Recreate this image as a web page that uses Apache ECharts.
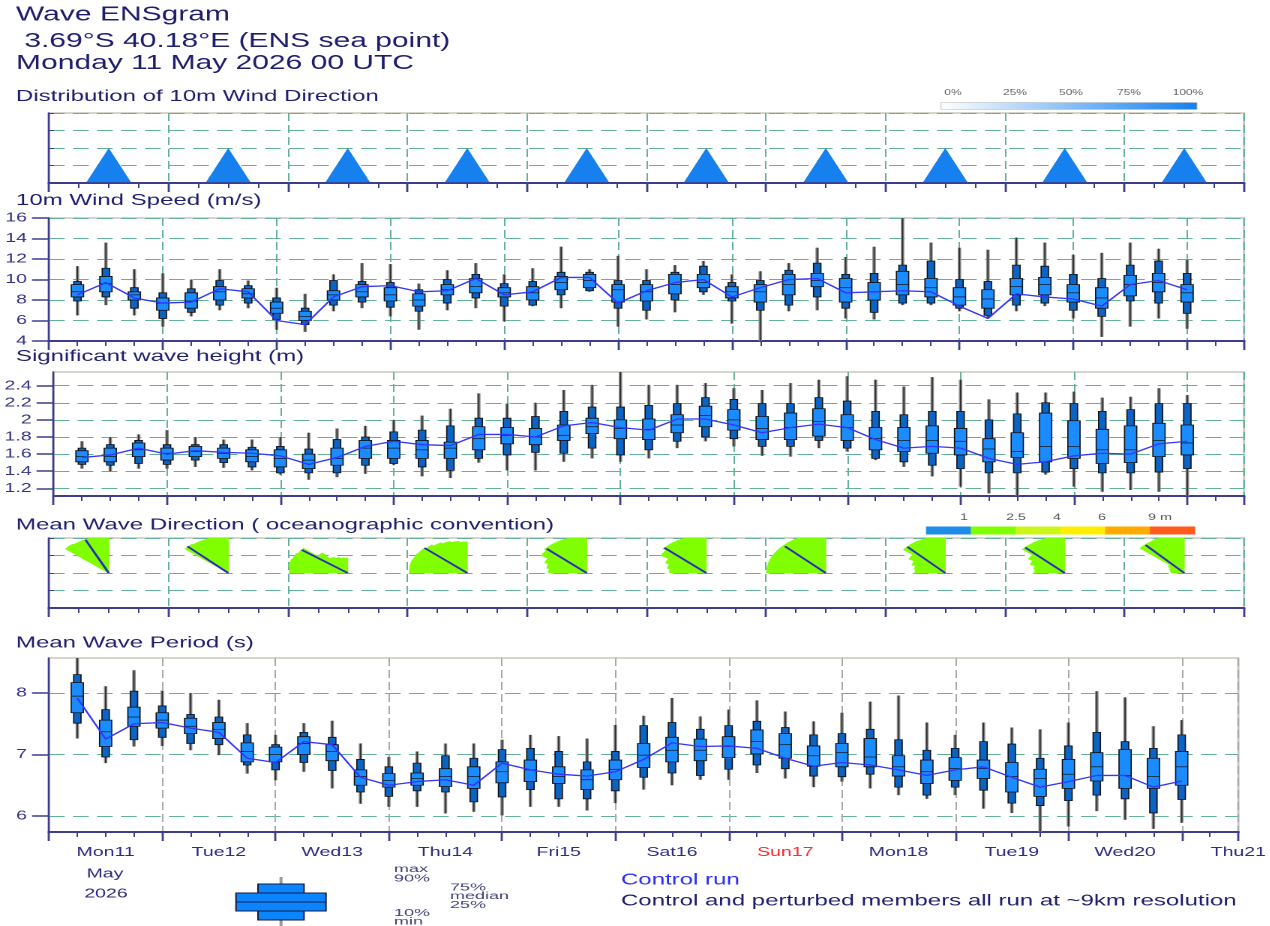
<!DOCTYPE html>
<html>
<head>
<meta charset="utf-8">
<script src="https://cdn.jsdelivr.net/npm/echarts@6/dist/echarts.min.js"></script>
<style>
  html, body { margin: 0; padding: 0; background: #fff; overflow: hidden; }
  #chart { height: 926px; transform-origin: 0 0; }
</style>
</head>
<body>
<div id="chart"></div>
<script>
// The reference plot is stretched horizontally, so the chart is laid out
// narrower and widened with a CSS scaleX.
const S = 1.5;
const px = v => v / S;

const FONT = '"Liberation Sans", Arial, sans-serif';
const NAVY = '#3d3d8f';
const TXT = '#1e1e6e';
const TEAL = '#63b196';
const GREY = '#a9a9a9';

// ---- data -------------------------------------------------------------
const leadHours = [6, 12, 18, 24, 30, 36, 42, 48, 54, 60, 66, 72, 78, 84, 90, 96, 102, 108, 114, 120,
  126, 132, 138, 144, 150, 156, 162, 168, 174, 180, 186, 192, 198, 204, 210, 216, 222, 228, 234, 240];
const dayLabels = ['Mon11', 'Tue12', 'Wed13', 'Thu14', 'Fri15', 'Sat16', 'Sun17', 'Mon18', 'Tue19', 'Wed20', 'Thu21'];

// 10m wind speed (m/s)
const wsMin = [6.5, 7.5, 6.5, 5.4, 6.4, 7.0, 7.2, 5.1, 4.9, 6.9, 7.2, 6.4, 5.1, 7.0, 7.2, 5.9, 7.4, 7.2, 8.8, 5.4,
  6.1, 6.8, 8.5, 5.7, 3.8, 6.9, 7.0, 6.2, 6.1, 7.5, 7.5, 6.9, 6.2, 6.9, 7.4, 6.2, 4.4, 5.4, 6.2, 5.2];
const wsP10 = [7.9, 8.3, 7.2, 6.2, 6.8, 7.5, 7.7, 6.1, 5.6, 7.5, 7.8, 7.3, 6.9, 7.7, 8.2, 7.4, 7.5, 8.5, 8.9, 7.2,
  7.0, 8.0, 8.8, 7.9, 7.0, 7.5, 8.3, 7.2, 6.8, 7.7, 7.7, 7.2, 6.5, 7.5, 7.7, 7.0, 6.4, 7.9, 7.7, 6.7];
const wsP25 = [8.3, 8.8, 8.0, 7.0, 7.2, 8.0, 8.2, 6.7, 6.0, 8.0, 8.3, 7.9, 7.4, 8.5, 8.7, 8.3, 8.0, 9.0, 9.2, 7.8,
  7.9, 8.6, 9.2, 8.2, 7.8, 8.5, 9.3, 7.8, 8.0, 8.5, 8.3, 7.5, 7.2, 8.5, 8.5, 7.8, 7.2, 8.4, 8.8, 7.8];
const wsMed = [8.8, 9.6, 8.5, 7.7, 7.9, 8.8, 8.6, 7.2, 6.4, 8.5, 8.8, 8.5, 8.0, 9.0, 9.3, 8.7, 8.7, 9.7, 9.9, 9.0,
  8.8, 9.5, 9.7, 8.8, 8.8, 9.5, 9.9, 9.2, 8.8, 9.5, 9.2, 8.3, 8.1, 9.3, 9.5, 8.7, 8.2, 9.5, 9.7, 8.7];
const wsP75 = [9.5, 10.3, 8.8, 8.2, 8.7, 9.3, 9.1, 7.8, 6.9, 8.9, 9.5, 9.2, 8.6, 9.5, 10.1, 9.2, 9.3, 10.3, 10.5, 9.5,
  9.5, 10.5, 10.5, 9.3, 9.5, 10.5, 10.6, 10.1, 9.7, 10.8, 10.1, 9.2, 9.0, 10.1, 10.2, 9.5, 9.2, 10.4, 10.6, 9.5];
const wsP90 = [9.8, 11.1, 9.2, 8.7, 9.1, 9.9, 9.4, 8.2, 7.2, 9.9, 9.8, 9.7, 9.0, 10.0, 10.5, 9.6, 9.8, 10.7, 10.7, 9.9,
  9.9, 10.7, 11.3, 9.7, 9.9, 10.9, 11.6, 10.5, 10.6, 11.4, 11.8, 10.0, 9.8, 11.4, 11.3, 10.5, 10.1, 11.4, 11.8, 10.6];
const wsMax = [11.3, 13.6, 11.0, 10.6, 10.0, 11.0, 9.9, 9.2, 8.6, 10.5, 11.6, 11.5, 9.6, 10.9, 11.6, 10.5, 11.1, 13.2, 11.0, 12.3,
  11.0, 11.4, 11.8, 10.5, 10.8, 11.6, 13.1, 12.2, 13.2, 16.5, 13.6, 13.1, 12.9, 14.1, 13.6, 12.4, 12.6, 13.6, 13.0, 11.9];
const wsCtrl = [8.5, 9.7, 8.2, 7.7, 7.8, 9.1, 8.8, 6.0, 5.6, 8.3, 9.3, 9.4, 8.8, 8.9, 10.1, 8.5, 8.8, 10.2, 10.2, 7.7,
  8.9, 9.7, 10.0, 8.3, 9.2, 10.0, 10.1, 8.7, 8.8, 8.9, 8.8, 7.4, 6.2, 8.6, 8.3, 8.1, 7.4, 9.5, 9.9, 9.0];

// significant wave height (m)
const hsMin = [1.43, 1.40, 1.43, 1.43, 1.45, 1.44, 1.41, 1.36, 1.30, 1.33, 1.37, 1.47, 1.34, 1.32, 1.50, 1.41, 1.41, 1.51, 1.55, 1.51,
  1.55, 1.67, 1.75, 1.69, 1.58, 1.57, 1.67, 1.63, 1.53, 1.45, 1.34, 1.22, 1.14, 1.08, 1.36, 1.22, 1.16, 1.18, 1.16, 1.08];
const hsP10 = [1.48, 1.47, 1.49, 1.48, 1.53, 1.50, 1.45, 1.38, 1.38, 1.38, 1.47, 1.49, 1.45, 1.41, 1.55, 1.59, 1.62, 1.61, 1.67, 1.59,
  1.65, 1.75, 1.80, 1.78, 1.69, 1.69, 1.76, 1.67, 1.55, 1.51, 1.47, 1.43, 1.38, 1.38, 1.39, 1.43, 1.38, 1.38, 1.39, 1.43];
const hsP25 = [1.51, 1.51, 1.57, 1.53, 1.57, 1.55, 1.51, 1.45, 1.43, 1.47, 1.55, 1.55, 1.55, 1.55, 1.65, 1.72, 1.71, 1.76, 1.84, 1.78,
  1.77, 1.85, 1.92, 1.88, 1.77, 1.77, 1.81, 1.76, 1.65, 1.63, 1.61, 1.59, 1.51, 1.56, 1.51, 1.55, 1.49, 1.50, 1.57, 1.59];
const hsMed = [1.57, 1.57, 1.65, 1.61, 1.63, 1.61, 1.57, 1.55, 1.53, 1.55, 1.67, 1.67, 1.65, 1.67, 1.78, 1.82, 1.80, 1.82, 1.92, 1.90,
  1.89, 1.94, 2.05, 2.00, 1.90, 1.91, 1.98, 1.91, 1.78, 1.76, 1.76, 1.75, 1.66, 1.63, 1.69, 1.69, 1.65, 1.65, 1.76, 1.73];
const hsP75 = [1.64, 1.67, 1.73, 1.67, 1.69, 1.67, 1.65, 1.65, 1.60, 1.67, 1.76, 1.76, 1.76, 1.74, 1.92, 1.91, 1.90, 1.94, 2.02, 2.00,
  2.01, 2.06, 2.16, 2.12, 2.04, 2.08, 2.13, 2.06, 1.91, 1.91, 1.93, 1.90, 1.78, 1.85, 2.08, 1.99, 1.89, 1.93, 1.96, 1.94];
const hsP90 = [1.67, 1.71, 1.76, 1.71, 1.71, 1.71, 1.68, 1.69, 1.66, 1.77, 1.80, 1.86, 1.88, 1.93, 2.02, 2.02, 2.04, 2.10, 2.15, 2.15,
  2.17, 2.19, 2.26, 2.24, 2.19, 2.19, 2.26, 2.22, 2.10, 2.06, 2.10, 2.10, 2.00, 2.07, 2.20, 2.19, 2.10, 2.12, 2.19, 2.19];
const hsMax = [1.75, 1.80, 1.83, 1.88, 1.80, 1.77, 1.77, 1.80, 1.85, 1.90, 1.93, 2.00, 2.05, 2.13, 2.31, 2.19, 2.20, 2.35, 2.41, 2.60,
  2.41, 2.41, 2.43, 2.37, 2.35, 2.43, 2.47, 2.51, 2.47, 2.39, 2.50, 2.47, 2.24, 2.32, 2.32, 2.33, 2.26, 2.27, 2.37, 2.29];
const hsCtrl = [1.56, 1.59, 1.67, 1.60, 1.64, 1.62, 1.61, 1.58, 1.48, 1.56, 1.69, 1.75, 1.71, 1.70, 1.83, 1.83, 1.80, 1.93, 1.97, 1.91,
  1.88, 2.01, 2.01, 1.94, 1.85, 1.91, 1.95, 1.91, 1.77, 1.67, 1.69, 1.67, 1.55, 1.48, 1.51, 1.58, 1.61, 1.60, 1.72, 1.75];
const hsTicks = [1.2, 1.4, 1.6, 1.8, 2, 2.2, 2.4];

// mean wave period (s)
const tmMin = [7.26, 6.86, 7.13, 7.14, 7.07, 6.99, 6.69, 6.58, 6.72, 6.45, 6.20, 6.15, 6.15, 6.04, 6.07, 6.01, 6.15, 6.15, 6.09, 6.21,
  6.43, 6.50, 6.59, 6.59, 6.70, 6.61, 6.47, 6.56, 6.45, 6.34, 6.28, 6.34, 6.12, 6.05, 5.65, 5.83, 6.08, 5.94, 5.79, 5.89];
const tmP10 = [7.51, 6.96, 7.24, 7.28, 7.18, 7.16, 6.83, 6.75, 6.87, 6.74, 6.39, 6.32, 6.41, 6.39, 6.23, 6.31, 6.43, 6.28, 6.28, 6.41,
  6.63, 6.70, 6.66, 6.76, 6.83, 6.77, 6.65, 6.64, 6.68, 6.47, 6.34, 6.47, 6.42, 6.21, 6.17, 6.25, 6.34, 6.28, 6.05, 6.27];
const tmP25 = [7.68, 7.13, 7.46, 7.43, 7.34, 7.26, 6.88, 6.88, 7.00, 6.90, 6.50, 6.47, 6.50, 6.48, 6.45, 6.54, 6.56, 6.53, 6.43, 6.59,
  6.79, 6.88, 6.90, 6.95, 7.01, 6.94, 6.81, 6.80, 6.80, 6.65, 6.53, 6.58, 6.61, 6.39, 6.32, 6.45, 6.57, 6.45, 6.45, 6.50];
const tmMed = [7.95, 7.37, 7.61, 7.56, 7.46, 7.41, 7.05, 7.00, 7.18, 7.05, 6.64, 6.58, 6.61, 6.64, 6.64, 6.72, 6.75, 6.64, 6.59, 6.76,
  6.99, 7.07, 7.07, 7.13, 7.21, 7.16, 6.98, 7.03, 6.96, 6.80, 6.72, 6.77, 6.77, 6.64, 6.61, 6.68, 6.80, 6.66, 6.64, 6.80];
const tmP75 = [8.17, 7.56, 7.77, 7.68, 7.59, 7.52, 7.19, 7.12, 7.29, 7.16, 6.75, 6.69, 6.70, 6.77, 6.80, 6.88, 6.91, 6.80, 6.75, 6.91,
  7.18, 7.28, 7.25, 7.29, 7.40, 7.34, 7.14, 7.18, 7.26, 6.98, 6.91, 6.95, 6.91, 6.87, 6.76, 6.92, 7.03, 7.08, 6.94, 7.05];
const tmP90 = [8.30, 7.73, 8.03, 7.79, 7.65, 7.61, 7.32, 7.16, 7.36, 7.28, 6.92, 6.80, 6.86, 6.98, 6.94, 7.08, 7.10, 7.05, 6.88, 7.05,
  7.47, 7.52, 7.41, 7.47, 7.54, 7.44, 7.32, 7.34, 7.41, 7.24, 7.07, 7.10, 7.21, 7.17, 6.94, 7.14, 7.36, 7.21, 7.10, 7.32];
const tmMax = [8.70, 8.11, 8.37, 8.04, 8.00, 7.89, 7.51, 7.32, 7.51, 7.55, 7.18, 6.96, 7.05, 7.18, 7.18, 7.24, 7.32, 7.30, 7.26, 7.48,
  7.63, 7.92, 7.62, 7.73, 7.88, 7.70, 7.54, 7.68, 7.86, 7.96, 7.52, 7.32, 7.52, 7.44, 7.41, 7.52, 8.03, 7.93, 7.46, 7.56];
const tmCtrl = [7.92, 7.25, 7.50, 7.52, 7.43, 7.36, 6.94, 6.87, 7.21, 7.16, 6.63, 6.50, 6.56, 6.59, 6.50, 6.86, 6.75, 6.68, 6.65, 6.72,
  6.92, 7.19, 7.13, 7.14, 7.10, 6.94, 6.81, 6.87, 6.83, 6.75, 6.66, 6.75, 6.80, 6.63, 6.47, 6.56, 6.66, 6.66, 6.47, 6.57];
const tmTicks = [6, 7, 8];

// wind direction distribution: one column per day, share of members (%)
const windDirShare = [100, 100, 100, 100, 100, 100, 100, 100, 100, 100];

// mean wave direction roses: 10 deg compass bins, radius per bin, mean direction (compass deg)
const roseBins = [270, 280, 290, 300, 310, 320, 330, 340, 350];
const waveDirRadius = [
  [0, 0, 0, 0, 2.15, 2.1, 2.1, 2.1, 2.1],
  [0, 0, 0, 0, 2.15, 2.1, 2.1, 2.1, 2.1],
  [2.22, 2.28, 2.25, 2.2, 1.5, 1.05, 0.95, 0.88, 0.86],
  [2.2, 2.22, 2.2, 2.17, 2.1, 2.0, 1.92, 1.85, 1.78],
  [1.45, 1.55, 1.7, 2.0, 2.1, 2.1, 2.1, 2.1, 2.1],
  [1.4, 1.5, 1.65, 2.0, 2.15, 2.15, 2.15, 2.15, 2.15],
  [2.25, 2.25, 2.25, 2.25, 2.25, 2.25, 2.25, 2.25, 2.25],
  [1.15, 1.2, 1.35, 1.6, 2.08, 2.1, 2.1, 2.1, 2.1],
  [1.15, 1.2, 1.4, 1.6, 2.1, 2.1, 2.1, 2.1, 2.1],
  [0.5, 0.55, 0.6, 0.7, 2.2, 2.2, 2.2, 2.15, 2.15]
];
const waveDirMean = [335, 314.5, 307, 311.3, 312.3, 312.1, 314.5, 316.1, 314, 317.4];
const waveDirMeanLen = [2.1, 2.18, 2.19, 2.17, 2.06, 2.15, 2.18, 2.08, 2.09, 2.17];

const heightLegendLabels = ['1', '2.5', '4', '6', '9 m'];
const heightLegendColors = ['#1f8de8', '#80ff00', '#ccf51a', '#ffee00', '#ffaa00', '#ff5a1e'];
const shareLegendLabels = ['0%', '25%', '50%', '75%', '100%'];

// ---- layout ---------------------------------------------------------
const dom = document.getElementById('chart');
dom.style.width = (1270 / S) + 'px';
dom.style.transform = 'scaleX(' + S + ')';
const chart = echarts.init(dom, null, { renderer: 'canvas', devicePixelRatio: 2 });

const panels = [
  { top: 113, height: 70 },
  { top: 218, height: 123 },
  { top: 372, height: 124 },
  { top: 538, height: 70 },
  { top: 658, height: 174 }
];
const grid = panels.map(p => ({
  left: px(49), width: px(1195), top: p.top, height: p.height,
  show: true, borderColor: '#cdc6ba', borderWidth: 1.5, backgroundColor: 'transparent'
}));

function xPair(g, max, minor, major, vColor, labels) {
  const base = {
    type: 'value', gridIndex: g, position: 'bottom', min: 0, max: max
  };
  return [
    Object.assign({}, base, {
      interval: minor,
      axisLine: { show: true, onZero: false, lineStyle: { color: NAVY, width: 2 } },
      axisTick: { show: true, length: 5, lineStyle: { color: NAVY, width: 1 } },
      axisLabel: labels ? {
        show: true, margin: 14, fontSize: 13, fontFamily: FONT, color: '#2c2c80',
        formatter: v => {
          if ((v - 12) % 24 !== 0) return '';
          const d = dayLabels[(v - 12) / 24];
          return d === 'Sun17' ? '{sun|' + d + '}' : d;
        },
        rich: { sun: { color: '#ff2a2a', fontSize: 13, fontFamily: FONT } }
      } : { show: false },
      splitLine: { show: false }
    }),
    Object.assign({}, base, {
      interval: major,
      axisLine: { show: false, onZero: false },
      axisTick: { show: true, length: 9, lineStyle: { color: NAVY, width: 1.4 } },
      axisLabel: { show: false },
      splitLine: { show: true, lineStyle: { color: vColor, type: [8, 4], width: 1 } }
    })
  ];
}

const xAxis = [].concat(
  xPair(0, 10, 0.25, 1, TEAL, false),
  xPair(1, 252, 6, 24, TEAL, false),
  xPair(2, 252, 6, 24, TEAL, false),
  xPair(3, 10, 0.25, 1, TEAL, false),
  xPair(4, 252, 6, 24, GREY, true)
);

const hDash = { color: TEAL, type: [10.5, 5.5], width: 1 };
function valueY(g, extra) {
  return Object.assign({
    type: 'value', gridIndex: g,
    axisLine: { show: true, onZero: false, lineStyle: { color: NAVY, width: 1.3 } },
    axisTick: { show: true, length: px(17), lineStyle: { color: NAVY, width: 1.5 } },
    axisLabel: { show: true, margin: px(22), fontSize: 13, fontFamily: FONT, color: '#33338a' },
    splitLine: { show: true, lineStyle: hDash }
  }, extra);
}
function dirY(g) {
  return {
    type: 'value', gridIndex: g, min: 0, max: 4, interval: 1,
    axisLine: { show: true, onZero: false, lineStyle: { color: NAVY, width: 1.3 } },
    axisTick: { show: true, inside: true, length: px(5), lineStyle: { color: NAVY } },
    axisLabel: { show: false },
    splitLine: { show: true, lineStyle: hDash }
  };
}
const yAxis = [
  dirY(0),
  valueY(1, { min: 4, max: 16, interval: 2 }),
  valueY(2, {
    min: 1.11, max: 2.56,
    axisTick: { show: true, length: px(17), customValues: hsTicks, lineStyle: { color: NAVY, width: 1.5 } },
    axisLabel: { show: true, margin: px(22), fontSize: 13, fontFamily: FONT, color: '#33338a', customValues: hsTicks }
  }),
  dirY(3),
  valueY(4, {
    min: 5.74, max: 8.57,
    axisTick: { show: true, length: px(17), customValues: tmTicks, lineStyle: { color: NAVY, width: 1.5 } },
    axisLabel: { show: true, margin: px(22), fontSize: 13, fontFamily: FONT, color: '#33338a', customValues: tmTicks }
  })
];

// ---- renderers --------------------------------------------------------
function renderBox(params, api) {
  const h = api.value(0);
  const y = k => api.coord([h, api.value(k)])[1];
  const x = api.coord([h, api.value(1)])[0];
  const yMin = y(1), y10 = y(2), y25 = y(3), y50 = y(4), y75 = y(5), y90 = y(6), yMax = y(7);
  const step = api.size([6, 0])[0];
  const wN = step * 0.26, wW = step * 0.43;
  return {
    type: 'group',
    children: [
      { type: 'line', shape: { x1: x, y1: yMin, x2: x, y2: yMax }, style: { stroke: '#8a8a8a', lineWidth: 2.3 } },
      { type: 'line', shape: { x1: x, y1: yMin, x2: x, y2: yMax }, style: { stroke: '#2a2a2a', lineWidth: 0.8 } },
      { type: 'rect', shape: { x: x - wN / 2, y: y90, width: wN, height: y10 - y90 },
        style: { fill: '#0b63c4', stroke: '#111', lineWidth: 0.8 } },
      { type: 'rect', shape: { x: x - wW / 2, y: y75, width: wW, height: y25 - y75 },
        style: { fill: '#1a8cff', stroke: '#111', lineWidth: 0.8 } },
      { type: 'line', shape: { x1: x - wW / 2, y1: y50, x2: x + wW / 2, y2: y50 },
        style: { stroke: '#111', lineWidth: 0.7 } }
    ]
  };
}

function boxSeries(g, lo, p10, p25, med, p75, p90, hi) {
  return {
    type: 'custom', xAxisIndex: 2 * g, yAxisIndex: g, clip: true, z: 3, silent: true,
    renderItem: renderBox,
    encode: { x: 0, y: [1, 2, 3, 4, 5, 6, 7] },
    data: leadHours.map((h, i) => [h, lo[i], p10[i], p25[i], med[i], p75[i], p90[i], hi[i]])
  };
}

function ctrlSeries(g, vals) {
  return {
    type: 'line', xAxisIndex: 2 * g, yAxisIndex: g, z: 5, silent: true,
    symbol: 'none', showSymbol: false,
    lineStyle: { color: '#3535ff', width: 1.3 },
    data: leadHours.map((h, i) => [h, vals[i]])
  };
}

function shareColor(p) {
  return echarts.color.lerp(p / 100, ['#ffffff', '#1580ee']);
}

function renderTriangle(params, api) {
  const c = api.value(0);
  const apex = api.coord([c, 2]);
  const bl = api.coord([c - 0.186, 0.05]);
  const br = api.coord([c + 0.186, 0.05]);
  return { type: 'polygon', shape: { points: [apex, bl, br] }, style: { fill: shareColor(api.value(1)) } };
}

function renderRose(params, api) {
  const i = params.dataIndex;
  const c = api.value(0);
  const [cx, cy] = api.coord([c, 2]);
  const unit = api.size([0, 1])[1];
  const rad = Math.PI / 180;
  const children = [];
  waveDirRadius[i].forEach((r, k) => {
    if (r <= 0) return;
    const mStart = 90 - (roseBins[k] + 10);
    const mEnd = 90 - roseBins[k];
    children.push({
      type: 'sector',
      shape: { cx, cy, r0: 0, r: r * unit, startAngle: -mEnd * rad, endAngle: -mStart * rad, clockwise: true },
      style: { fill: '#80ff00', stroke: '#80ff00', lineWidth: 0.6 }
    });
  });
  const a = (90 - api.value(1)) * rad;
  const L = waveDirMeanLen[i] * unit;
  children.push({
    type: 'line',
    shape: { x1: cx, y1: cy, x2: cx + L * Math.cos(a), y2: cy - L * Math.sin(a) },
    style: { stroke: '#2b2bbd', lineWidth: 1.6 }
  });
  return { type: 'group', children };
}

// ---- text & legends ---------------------------------------------------
function txt(text, x, y, size, color, align, extra) {
  return Object.assign({
    type: 'text', x: px(x), y: y, silent: true, z: 10,
    style: {
      text: text, fill: color, fontSize: size, fontFamily: FONT,
      align: align || 'left', verticalAlign: 'middle',
      textAlign: align || 'left', textVerticalAlign: 'middle'
    }
  }, extra || {});
}

const graphic = [
  txt('Wave ENSgram', 16, 15, 20, TXT),
  txt(' 3.69°S 40.18°E (ENS sea point)', 16, 41.5, 20, TXT),
  txt('Monday 11 May 2026 00 UTC', 16, 63.5, 20, TXT),
  txt('Distribution of 10m Wind Direction', 16, 96.5, 16, TXT),
  txt('10m Wind Speed (m/s)', 16, 200.5, 16, TXT),
  txt('Significant wave height (m)', 16, 356.5, 16, TXT),
  txt('Mean Wave Direction ( oceanographic convention)', 16, 525, 16, TXT),
  txt('Mean Wave Period (s)', 16, 643, 16, TXT),
  txt('May', 105, 874, 13, '#2c2c80', 'center'),
  txt('2026', 106, 894, 13, '#2c2c80', 'center'),
  txt('Control run', 621, 880, 16, '#2d2dff'),
  txt('Control and perturbed members all run at ~9km resolution', 621, 901, 16, TXT),
  // wind direction share legend
  {
    type: 'rect', silent: true, z: 10,
    shape: { x: px(941), y: 102.5, width: px(256), height: 7 },
    style: {
      stroke: '#b8b8b8', lineWidth: 0.5,
      fill: new echarts.graphic.LinearGradient(0, 0, 1, 0, [
        { offset: 0, color: '#ffffff' }, { offset: 1, color: '#1580ee' }
      ])
    }
  }
];
shareLegendLabels.forEach((t, i) => {
  graphic.push(txt(t, [953, 1015, 1071, 1129, 1188][i], 93, 8, '#666', 'center'));
});
heightLegendColors.forEach((c, i) => {
  graphic.push({
    type: 'rect', silent: true, z: 10,
    shape: { x: px(926 + i * 44.8), y: 526.5, width: px(44.8) + 0.3, height: 8 },
    style: { fill: c }
  });
});
heightLegendLabels.forEach((t, i) => {
  graphic.push(txt(t, [964, 1016, 1057, 1102, 1160][i], 517.5, 9.5, '#555', 'center'));
});

// box legend at the bottom
graphic.push(
  { type: 'line', silent: true, z: 10, shape: { x1: px(281), y1: 877, x2: px(281), y2: 926 },
    style: { stroke: '#9a9a9a', lineWidth: 2 } },
  { type: 'rect', silent: true, z: 11, shape: { x: px(258), y: 884, width: px(46), height: 36 },
    style: { fill: '#0a84ff', stroke: '#1a1a3a', lineWidth: 1 } },
  { type: 'rect', silent: true, z: 12, shape: { x: px(236), y: 893, width: px(90), height: 18 },
    style: { fill: '#0a84ff', stroke: '#1a1a3a', lineWidth: 1 } },
  { type: 'line', silent: true, z: 13, shape: { x1: px(236), y1: 902, x2: px(326), y2: 902 },
    style: { stroke: '#1a1a3a', lineWidth: 1 } }
);
[['max', 394, 869], ['90%', 394, 878.5], ['75%', 450, 887.5], ['median', 450, 896],
 ['25%', 450, 905], ['10%', 394, 913], ['min', 394, 921.5]].forEach(([t, x, y]) => {
  graphic.push(txt(t, x, y, 10, '#44447a', 'left', { scaleX: 1.2 }));
});

// ---- option -----------------------------------------------------------
const option = {
  animation: false,
  backgroundColor: '#ffffff',
  grid: grid,
  xAxis: xAxis,
  yAxis: yAxis,
  graphic: graphic,
  series: [
    {
      type: 'custom', xAxisIndex: 0, yAxisIndex: 0, clip: true, z: 3, silent: true,
      renderItem: renderTriangle,
      encode: { x: 0, y: 1 },
      data: windDirShare.map((p, i) => [i + 0.5, p])
    },
    boxSeries(1, wsMin, wsP10, wsP25, wsMed, wsP75, wsP90, wsMax),
    ctrlSeries(1, wsCtrl),
    boxSeries(2, hsMin, hsP10, hsP25, hsMed, hsP75, hsP90, hsMax),
    ctrlSeries(2, hsCtrl),
    {
      type: 'custom', xAxisIndex: 6, yAxisIndex: 3, clip: true, z: 3, silent: true,
      renderItem: renderRose,
      encode: { x: 0, y: 1 },
      data: waveDirMean.map((d, i) => [i + 0.5, d])
    },
    boxSeries(4, tmMin, tmP10, tmP25, tmMed, tmP75, tmP90, tmMax),
    ctrlSeries(4, tmCtrl)
  ]
};

chart.setOption(option);
</script>
</body>
</html>
